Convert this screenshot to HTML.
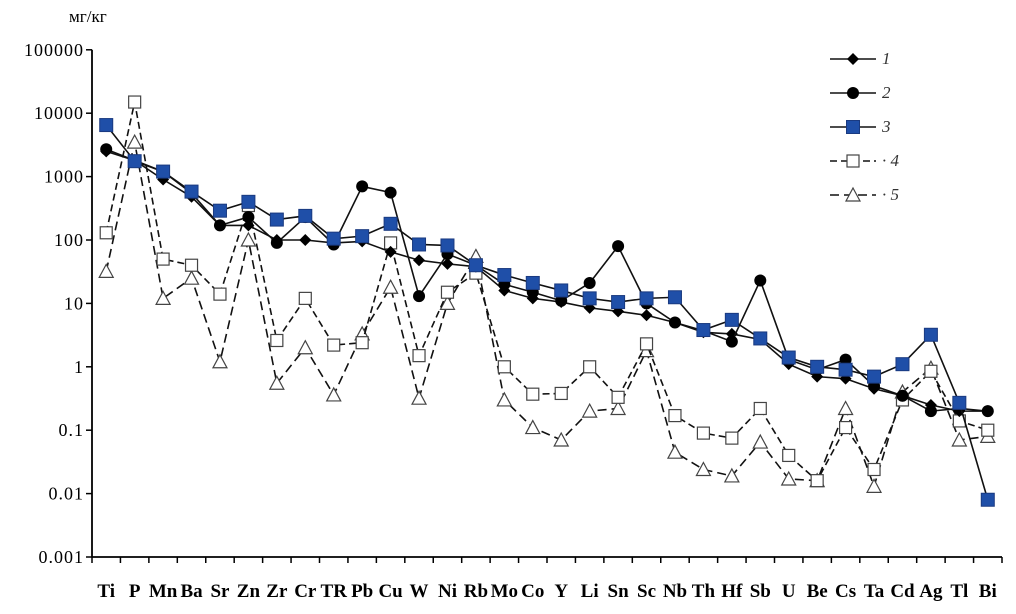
<!DOCTYPE html>
<html><head><meta charset="utf-8"><style>
html,body{margin:0;padding:0;background:#fff;}
svg{display:block;font-family:"Liberation Serif","DejaVu Serif",serif;}
</style></head><body>
<svg id="chart" width="1016" height="614" viewBox="0 0 1016 614" xmlns="http://www.w3.org/2000/svg">
<text x="69" y="22" font-size="17">мг/кг</text>
<g id="axes"></g>
<g id="series"></g>
<g id="legend"></g>
</svg>
<script>
const categories=["Ti","P","Mn","Ba","Sr","Zn","Zr","Cr","TR","Pb","Cu","W","Ni","Rb","Mo","Co","Y","Li","Sn","Sc","Nb","Th","Hf","Sb","U","Be","Cs","Ta","Cd","Ag","Tl","Bi"];
const s1=[2500,1800,900,480,170,170,100,100,90,95,65,48,42,38,16,12,10.5,8.5,7.5,6.5,5,3.5,3.3,2.7,1.1,0.7,0.65,0.45,0.35,0.25,0.2,0.2];
const s2=[2700,1800,1200,550,170,230,90,230,85,700,560,13,60,40,20,15,11,21,80,10,5,3.7,2.5,23,1.3,0.9,1.3,0.5,0.35,0.2,0.22,0.2];
const s3=[6500,1750,1200,580,290,400,210,240,105,115,180,85,82,40,28,21,16,12,10.5,12,12.5,3.8,5.5,2.8,1.4,1.0,0.9,0.7,1.1,3.2,0.27,0.008];
const s4=[130,15000,50,40,14,350,2.6,12,2.2,2.4,90,1.5,15,30,1.0,0.37,0.38,1.0,0.33,2.3,0.17,0.09,0.075,0.22,0.04,0.016,0.11,0.024,0.3,0.85,0.14,0.1];
const s5=[32,3500,12,25,1.2,100,0.55,2.0,0.36,3.3,18,0.32,10,55,0.3,0.11,0.07,0.2,0.22,1.8,0.045,0.024,0.019,0.065,0.017,0.016,0.22,0.013,0.4,0.95,0.07,0.08];
const yTicks=[0.001,0.01,0.1,1,10,100,1000,10000,100000];
const yTickLabels=["0.001","0.01","0.1","1","10","100","1000","10000","100000"];
const legendLabels=["1","2","3","4","5"];

const NS="http://www.w3.org/2000/svg";
const X0=92,X1=1002,Y0=557,DEC=63.4;
const band=(X1-X0)/categories.length;
function xs(i){return X0+band*(i+0.5);}
function ys(v){return Y0-(Math.log10(v)+3)*DEC;}
function mk(tag,attrs,parent){const e=document.createElementNS(NS,tag);for(const k in attrs)e.setAttribute(k,attrs[k]);parent.appendChild(e);return e;}
const axes=document.getElementById('axes');
let a=mk('line',{x1:X0,y1:ys(100000),x2:X0,y2:Y0,stroke:'#000','stroke-width':1.8},axes);


a=mk('line',{x1:X0,y1:Y0,x2:X1,y2:Y0,stroke:'#000','stroke-width':1.8},axes);


yTicks.forEach((t,i)=>{
  const y=ys(t);
  mk('line',{x1:X0-6,y1:y,x2:X0,y2:y,stroke:'#000','stroke-width':1.5},axes);
  const tx=mk('text',{x:84,y:y+6,'font-size':18,'text-anchor':'end','letter-spacing':1},axes);
  tx.textContent=yTickLabels[i];
  
  
});
for(let i=0;i<=categories.length;i++){
  const x=X0+band*i;
  mk('line',{x1:x,y1:Y0,x2:x,y2:Y0+6,stroke:'#000','stroke-width':1.5},axes);
}
categories.forEach((c,i)=>{
  const tx=mk('text',{x:xs(i),y:597,'font-size':19,'font-weight':'bold','text-anchor':'middle'},axes);
  tx.textContent=c;
  
  
});
const defs=[
 {data:s1,dash:null,m:'diamond'},
 {data:s2,dash:null,m:'circle'},
 {data:s3,dash:null,m:'bsquare'},
 {data:s4,dash:'7,4',m:'osquare'},
 {data:s5,dash:'9,5',m:'triangle'}
];
function marker(type,x,y,g){
  let e;
  if(type==='diamond')e=mk('polygon',{points:`${x},${y-6} ${x+6},${y} ${x},${y+6} ${x-6},${y}`,fill:'#000'},g);
  else if(type==='circle')e=mk('circle',{cx:x,cy:y,r:6,fill:'#000'},g);
  else if(type==='bsquare')e=mk('rect',{x:x-6.5,y:y-6.5,width:13,height:13,fill:'#1f4fa8',stroke:'#1a3a80','stroke-width':1},g);
  else if(type==='osquare')e=mk('rect',{x:x-6,y:y-6,width:12,height:12,fill:'#fff',stroke:'#444','stroke-width':1.2},g);
  else e=mk('polygon',{points:`${x},${y-7} ${x+7},${y+6} ${x-7},${y+6}`,fill:'#fff',stroke:'#444','stroke-width':1.2},g);
  return e;
}
const sg=document.getElementById('series');
const order=[4,3,0,1,2];
order.forEach(k=>{
  const d=defs[k];
  const g=mk('g',{},sg);
  
  
  const pts=d.data.map((v,i)=>xs(i)+','+ys(v)).join(' ');
  const pl=mk('polyline',{points:pts,fill:'none',stroke:'#111','stroke-width':1.6},g);
  if(d.dash)pl.setAttribute('stroke-dasharray',d.dash);
  
  
  d.data.forEach((v,i)=>{
    const m=marker(d.m,xs(i),ys(v),g);
    
    
  });
});
const lg=document.getElementById('legend');
const ly=[59,93,127,161,195];
defs.forEach((d,k)=>{
  const g=mk('g',{},lg);
  
  
  const l=mk('line',{x1:830,y1:ly[k],x2:876,y2:ly[k],stroke:'#111','stroke-width':1.6},g);
  if(d.dash)l.setAttribute('stroke-dasharray',d.dash);
  marker(d.m,853,ly[k],g);
  const t=mk('text',{x:882,y:ly[k]+5,'font-size':17,'font-style':'italic',fill:'#333'},g);
  t.textContent=(d.dash?'· ':'')+legendLabels[k];
});
</script>
</body></html>
